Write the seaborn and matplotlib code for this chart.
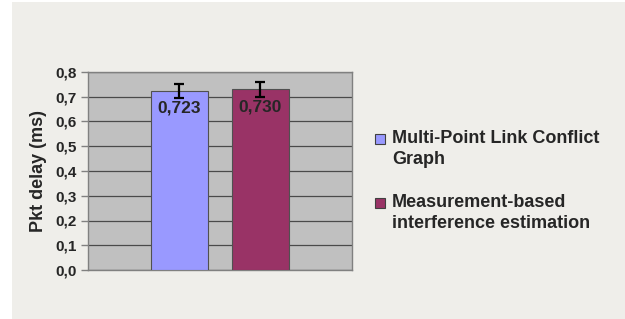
import matplotlib
matplotlib.use("Agg")
import matplotlib.pyplot as plt
import pandas as pd
import seaborn as sns
from matplotlib.patches import Rectangle
from matplotlib.ticker import FuncFormatter, MultipleLocator

# data
series = ["Multi-Point Link Conflict\nGraph", "Measurement-based\ninterference estimation"]
delay_ms = [0.723, 0.730]
delay_err = [0.028, 0.029]
colors = ["#9999FF", "#993366"]
y_label = "Pkt delay (ms)"

df = pd.DataFrame({"group": ["g", "g"], "series": series, "delay": delay_ms})

sns.set_style("white")
plt.rcParams["font.family"] = ["Liberation Sans", "DejaVu Sans"]
plt.rcParams["font.weight"] = "bold"

fig = plt.figure(figsize=(6.25, 3.19), dpi=100, facecolor="white")
# grey chart area (thin white margin at left and top)
fig.patches.append(Rectangle((12 / 625, 0), 1, 1 - 2 / 319, transform=fig.transFigure,
                             facecolor="#EFEEEA", edgecolor="none", zorder=-10))

ax = fig.add_axes([87.5 / 625, 49 / 319, 264.5 / 625, 198 / 319])
ax.set_facecolor("#C0C0C0")

sns.barplot(data=df, x="group", y="delay", hue="series", palette=colors,
            saturation=1, width=0.616, gap=0.3, errorbar=None, edgecolor="#505050",
            linewidth=0.8, legend=False, ax=ax, zorder=3)

bars = ax.patches[:len(series)]
for bar, v, e in zip(bars, delay_ms, delay_err):
    cx = bar.get_x() + bar.get_width() / 2
    ax.errorbar(cx, v, yerr=e, color="black", elinewidth=1.6, capsize=3.5,
                capthick=1.6, zorder=5)
    ax.text(cx, v - 0.04, f"{v:.3f}".replace(".", ","), ha="center", va="top",
            fontsize=12.5, fontweight="bold", zorder=6)

ax.set_ylim(0, 0.8)
ax.set_xlim(-0.5, 0.5)
ax.yaxis.set_major_locator(MultipleLocator(0.1))
ax.yaxis.set_major_formatter(FuncFormatter(lambda v, p: f"{v:.1f}".replace(".", ",")))
ax.grid(axis="y", color="#4a4a4a", linewidth=0.9, zorder=0)
ax.set_axisbelow(True)
ax.set_xticks([])
ax.set_xlabel("")
ax.set_ylabel(y_label, fontsize=13, fontweight="bold", labelpad=6)
ax.tick_params(axis="y", direction="out", length=5, width=1, color="#808080",
               labelsize=11, pad=3, left=True)
for lbl in ax.get_yticklabels():
    lbl.set_fontweight("bold")
for s in ax.spines.values():
    s.set_color("#808080")
    s.set_linewidth(1)

# legend, drawn to match the Excel-style layout (marker beside first line)
leg_tops = [130, 194]
for color, label, top in zip(colors, series, leg_tops):
    fig.patches.append(Rectangle((375 / 625, 1 - (top + 14) / 319), 10 / 625, 10 / 319,
                                 transform=fig.transFigure, facecolor=color,
                                 edgecolor="#404040", linewidth=0.8))
    fig.text(392 / 625, 1 - top / 319, label, ha="left", va="top", fontsize=13,
             fontweight="bold", linespacing=1.3)

fig.savefig("out.png", dpi=100, facecolor=fig.get_facecolor())
